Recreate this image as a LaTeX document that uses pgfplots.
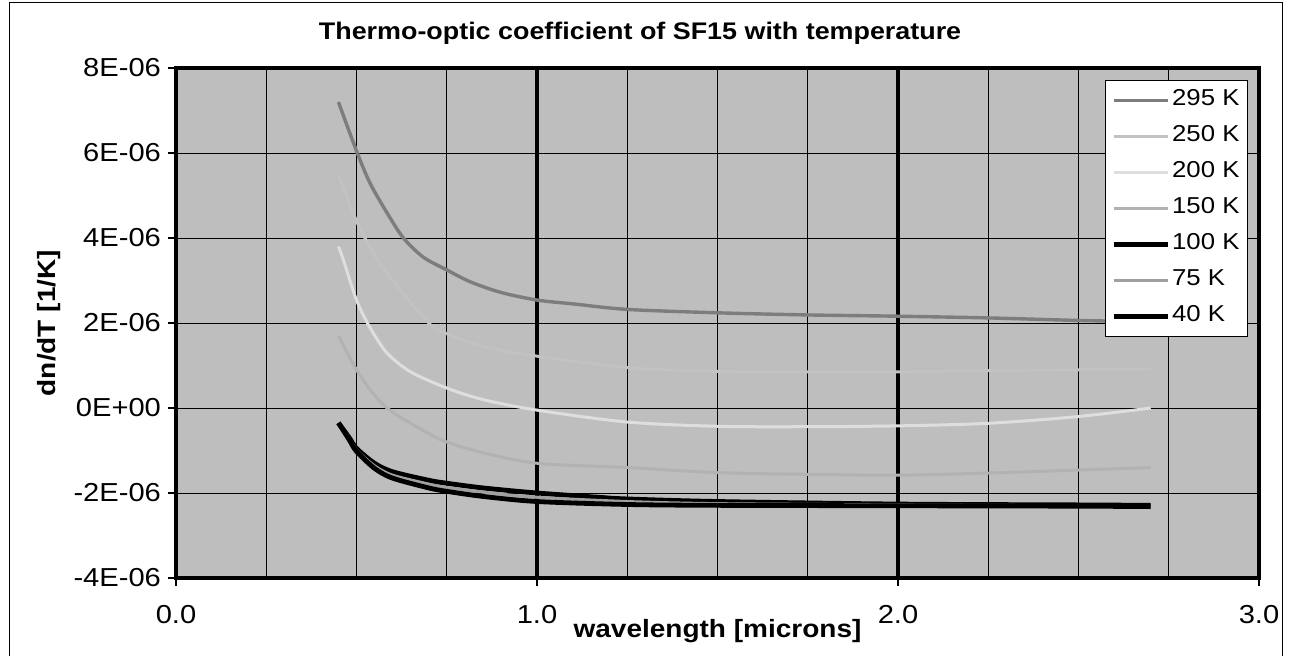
\documentclass[border=0pt]{standalone}
\usepackage{pgfplots}
\pgfplotsset{compat=1.18}
\usepackage{fontspec}
\setmainfont{Liberation Sans}[FakeStretch=1.12]
\definecolor{bggray}{RGB}{190,190,190}
\definecolor{c295}{RGB}{125,125,125}
\definecolor{c250}{RGB}{194,194,194}
\definecolor{c200}{RGB}{222,222,222}
\definecolor{c150}{RGB}{178,178,178}
\definecolor{c75}{RGB}{160,160,160}
\begin{document}
\begin{tikzpicture}
\useasboundingbox (-88pt,-38.5pt) rectangle (557pt,289pt);
\draw[line width=0.5pt] (-83pt,-45pt) -- (-83pt,288pt) -- (553pt,288pt) -- (553pt,-45pt);
\begin{axis}[
  at={(0,0)}, anchor=south west,
  scale only axis, width=541.5pt, height=255pt,
  xmin=0, xmax=3, ymin=-4e-6, ymax=8e-6,
  scaled y ticks=false, scaled x ticks=false,
  axis background/.style={fill=bggray},
  axis line style={line width=2.2pt},
  tick align=outside, xtick pos=bottom, ytick pos=left,
  major tick length=4pt,
  tick style={black, line width=0.6pt},
  xtick={0,1,2,3}, xticklabels={0.0,1.0,2.0,3.0},
  minor xtick={0.25,0.5,0.75,1.25,1.5,1.75,2.25,2.5,2.75},
  minor tick length=0pt,
  xminorgrids=true, xmajorgrids=false,
  minor grid style={black, line width=0.5pt},
  ytick={-4e-6,-2e-6,0,2e-6,4e-6,6e-6,8e-6},
  yticklabels={-4E-06,-2E-06,0E+00,2E-06,4E-06,6E-06,8E-06},
  ymajorgrids=true,
  major grid style={black, line width=0.5pt},
  extra x ticks={1,2}, extra x tick labels={},
  extra x tick style={grid=major, major grid style={black, line width=2.2pt}, major tick length=0pt},
  tick label style={font=\fontsize{13}{15}\selectfont},
  xticklabel style={yshift=-6pt},
  xlabel={wavelength [microns]},
  xlabel style={font=\bfseries\fontsize{12.5}{14}\selectfont, at={(axis description cs:0.5,0)}, anchor=base, yshift=-29.5pt},
  ylabel={dn/dT [1/K]},
  ylabel style={font=\bfseries\fontsize{12.5}{14}\selectfont, at={(axis description cs:-0.1173,0.5)}, anchor=center},
  title={Thermo-optic coefficient of SF15 with temperature},
  title style={font=\bfseries\fontsize{12}{14}\selectfont, at={(axis description cs:0.4285,1)}, anchor=base, yshift=8.5pt},
  legend style={at={(axis description cs:0.9898,0.9765)}, anchor=north east,
    draw=black, line width=0.5pt, fill=white, font=\fontsize{11.5}{13}\selectfont,
    nodes={inner ysep=4pt, inner xsep=1pt, text height=7.5pt, text depth=2.5pt},
    inner xsep=3pt, inner ysep=1pt},
  legend cell align=left,
  legend image code/.code={\draw[#1] (0pt,0pt) -- (27pt,0pt);},
  every axis plot/.append style={smooth, no markers},
]
\addplot[c295, line width=1.7pt] coordinates {
(0.45,7.2e-6)(0.5,6.05e-6)(0.537,5.3e-6)(0.584,4.6e-6)(0.63,4.0e-6)(0.685,3.55e-6)(0.75,3.25e-6)(0.815,2.97e-6)(0.9,2.72e-6)(1.0,2.54e-6)(1.1,2.45e-6)(1.25,2.32e-6)(1.5,2.24e-6)(1.75,2.19e-6)(2.0,2.16e-6)(2.25,2.12e-6)(2.5,2.06e-6)(2.7,2.03e-6)};
\addlegendentry{295 K}
\addplot[c250, line width=1.5pt] coordinates {
(0.45,5.5e-6)(0.5,4.4e-6)(0.55,3.6e-6)(0.6,3.0e-6)(0.7,2.0e-6)(0.75,1.75e-6)(0.85,1.45e-6)(1.0,1.22e-6)(1.25,0.95e-6)(1.5,0.86e-6)(1.75,0.85e-6)(2.0,0.85e-6)(2.25,0.88e-6)(2.5,0.9e-6)(2.7,0.92e-6)};
\addlegendentry{250 K}
\addplot[c200, line width=1.5pt] coordinates {
(0.45,3.8e-6)(0.463,3.5e-6)(0.5,2.54e-6)(0.537,1.9e-6)(0.584,1.3e-6)(0.65,0.85e-6)(0.75,0.47e-6)(0.85,0.2e-6)(1.0,-0.05e-6)(1.25,-0.33e-6)(1.5,-0.43e-6)(1.75,-0.44e-6)(2.0,-0.42e-6)(2.25,-0.36e-6)(2.5,-0.2e-6)(2.7,0.0e-6)};
\addlegendentry{200 K}
\addplot[c150, line width=1.5pt] coordinates {
(0.45,1.7e-6)(0.5,0.9e-6)(0.55,0.3e-6)(0.6,-0.1e-6)(0.7,-0.6e-6)(0.75,-0.8e-6)(0.85,-1.05e-6)(1.0,-1.3e-6)(1.25,-1.4e-6)(1.5,-1.52e-6)(1.75,-1.56e-6)(2.0,-1.58e-6)(2.25,-1.53e-6)(2.5,-1.46e-6)(2.7,-1.4e-6)};
\addlegendentry{150 K}
\addplot[black, line width=2.4pt] coordinates {
(0.45,-0.35e-6)(0.48,-0.7e-6)(0.5,-0.95e-6)(0.55,-1.3e-6)(0.6,-1.5e-6)(0.7,-1.7e-6)(0.75,-1.77e-6)(0.85,-1.88e-6)(1.0,-2.0e-6)(1.17,-2.1e-6)(1.25,-2.14e-6)(1.5,-2.2e-6)(2.0,-2.26e-6)(2.5,-2.28e-6)(2.7,-2.29e-6)};
\addlegendentry{100 K}
\addplot[c75, line width=1.5pt] coordinates {
(0.45,-0.35e-6)(0.48,-0.72e-6)(0.5,-0.99e-6)(0.55,-1.36e-6)(0.6,-1.58e-6)(0.7,-1.79e-6)(0.75,-1.87e-6)(0.85,-1.98e-6)(1.0,-2.1e-6)(1.25,-2.2e-6)(1.5,-2.25e-6)(2.0,-2.28e-6)(2.5,-2.3e-6)(2.7,-2.3e-6)};
\addlegendentry{75 K}
\addplot[black, line width=2.4pt] coordinates {
(0.45,-0.35e-6)(0.48,-0.75e-6)(0.5,-1.02e-6)(0.55,-1.42e-6)(0.6,-1.65e-6)(0.7,-1.88e-6)(0.75,-1.96e-6)(0.85,-2.08e-6)(1.0,-2.2e-6)(1.25,-2.27e-6)(1.5,-2.29e-6)(2.0,-2.3e-6)(2.5,-2.31e-6)(2.7,-2.32e-6)};
\addlegendentry{40 K}
\end{axis}
\end{tikzpicture}
\end{document}
